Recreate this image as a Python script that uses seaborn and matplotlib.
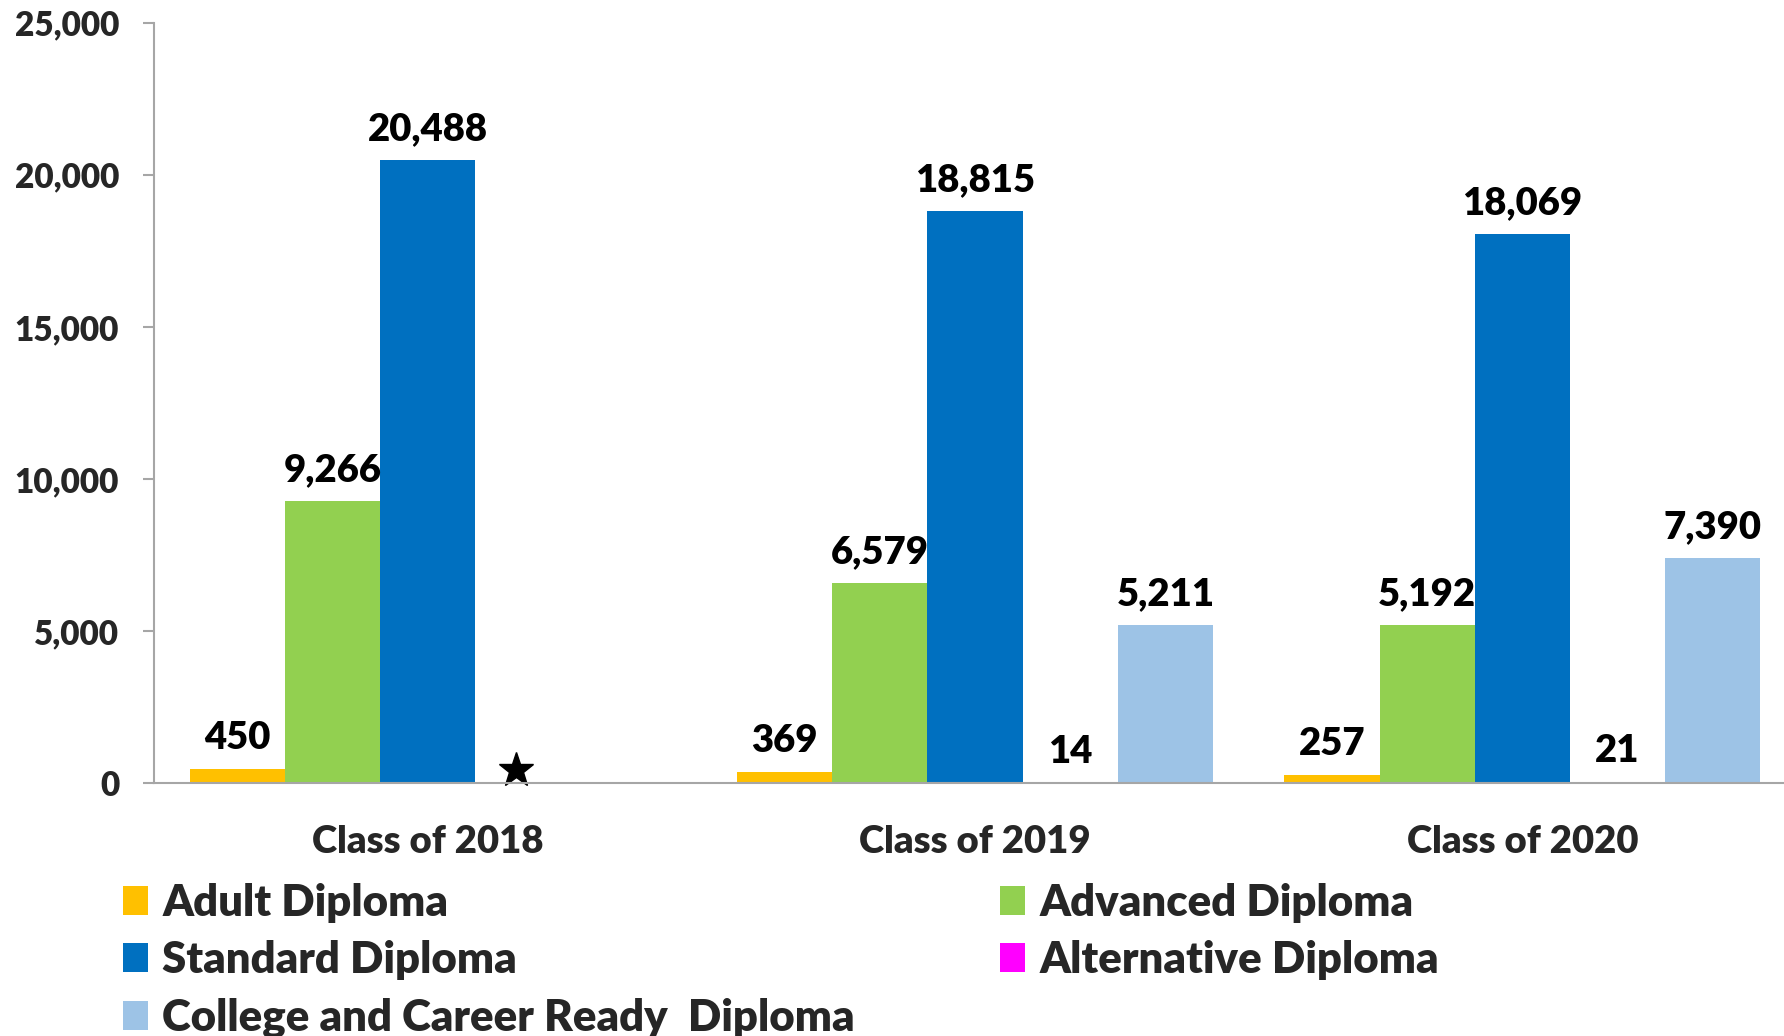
import matplotlib
matplotlib.use("Agg")
import matplotlib.pyplot as plt
import seaborn as sns
import pandas as pd
import numpy as np

# ---- data ----
classes = ["Class of 2018", "Class of 2019", "Class of 2020"]
diplomas = ["Adult Diploma", "Advanced Diploma", "Standard Diploma",
            "Alternative Diploma", "College and Career Ready  Diploma"]
adult = [450, 369, 257]
advanced = [9266, 6579, 5192]
standard = [20488, 18815, 18069]
alternative = [np.nan, 14, 21]       # 2018: not available (star)
ccr = [np.nan, 5211, 7390]           # 2018: not offered
colors = ["#FFC000", "#92D050", "#0070C0", "#FF00FF", "#9DC3E6"]
yticks = [0, 5000, 10000, 15000, 20000, 25000]

series = [adult, advanced, standard, alternative, ccr]
rows = []
for d, vals in zip(diplomas, series):
    for c, v in zip(classes, vals):
        rows.append({"Class": c, "Diploma": d, "Count": v})
df = pd.DataFrame(rows).dropna()

sns.set_theme(style="white")
FONT = "Lato"
W = "heavy"
plt.rcParams["font.family"] = [FONT, "DejaVu Sans"]
plt.rcParams["font.weight"] = W

fig = plt.figure(figsize=(17.84, 10.36), dpi=100)
ax = fig.add_axes([0.0863, 0.2442, 1 - 0.0863, 0.978 - 0.2442])

BW = 0.87
sns.barplot(data=df, x="Class", y="Count", hue="Diploma", order=classes,
            hue_order=diplomas, palette=colors, width=BW, errorbar=None,
            saturation=1, ax=ax, linewidth=0)

handles, labels = ax.get_legend_handles_labels()
if ax.get_legend() is not None:
    ax.get_legend().remove()

for cont in ax.containers:
    ax.bar_label(cont, labels=[f"{v:,.0f}" for v in cont.datavalues],
                 padding=10, fontsize=27.5, fontweight=W, color="black")

# star marking the unavailable 2018 Alternative Diploma value
alt_idx = diplomas.index("Alternative Diploma")
star_x = 0 + BW / len(diplomas) * (alt_idx - (len(diplomas) - 1) / 2)
ax.plot([star_x - 0.012], [420], marker="*", markersize=26, color="black",
        linestyle="none", clip_on=False)

ax.set_ylim(0, 25000)
ax.set_xlim(-0.5, 2.478)
ax.set_yticks(yticks)
ax.set_yticklabels([f"{v:,}" for v in yticks])
ax.tick_params(axis="y", which="both", left=True, length=8, width=1.5,
               color="#A6A6A6", pad=17)
ax.tick_params(axis="x", bottom=False, pad=24)
for lab in ax.get_yticklabels():
    lab.set_fontsize(24)
    lab.set_fontweight(W)
for lab in ax.get_xticklabels():
    lab.set_fontsize(27.5)
    lab.set_fontweight(W)
ax.set_xlabel("")
ax.set_ylabel("")
sns.despine(ax=ax, top=True, right=True)
for s in ["left", "bottom"]:
    ax.spines[s].set_color("#A6A6A6")
    ax.spines[s].set_linewidth(1.5)

# legend: two columns placed independently
hmap = dict(zip(labels, handles))
col1 = ["Adult Diploma", "Standard Diploma", "College and Career Ready  Diploma"]
col2 = ["Advanced Diploma", "Alternative Diploma"]
common = dict(frameon=False, handlelength=0.57, handleheight=0.63,
              handletextpad=0.33, labelspacing=0.40, borderpad=0, borderaxespad=0,
              loc="upper left",
              prop={"family": [FONT, "DejaVu Sans"], "weight": W, "size": 31.5})
fig.legend([hmap[l] for l in col1], col1, bbox_to_anchor=(0.069, 0.148), **common)
fig.legend([hmap[l] for l in col2], col2, bbox_to_anchor=(0.5605, 0.148), **common)

fig.savefig("out.png", dpi=100, facecolor="white")
